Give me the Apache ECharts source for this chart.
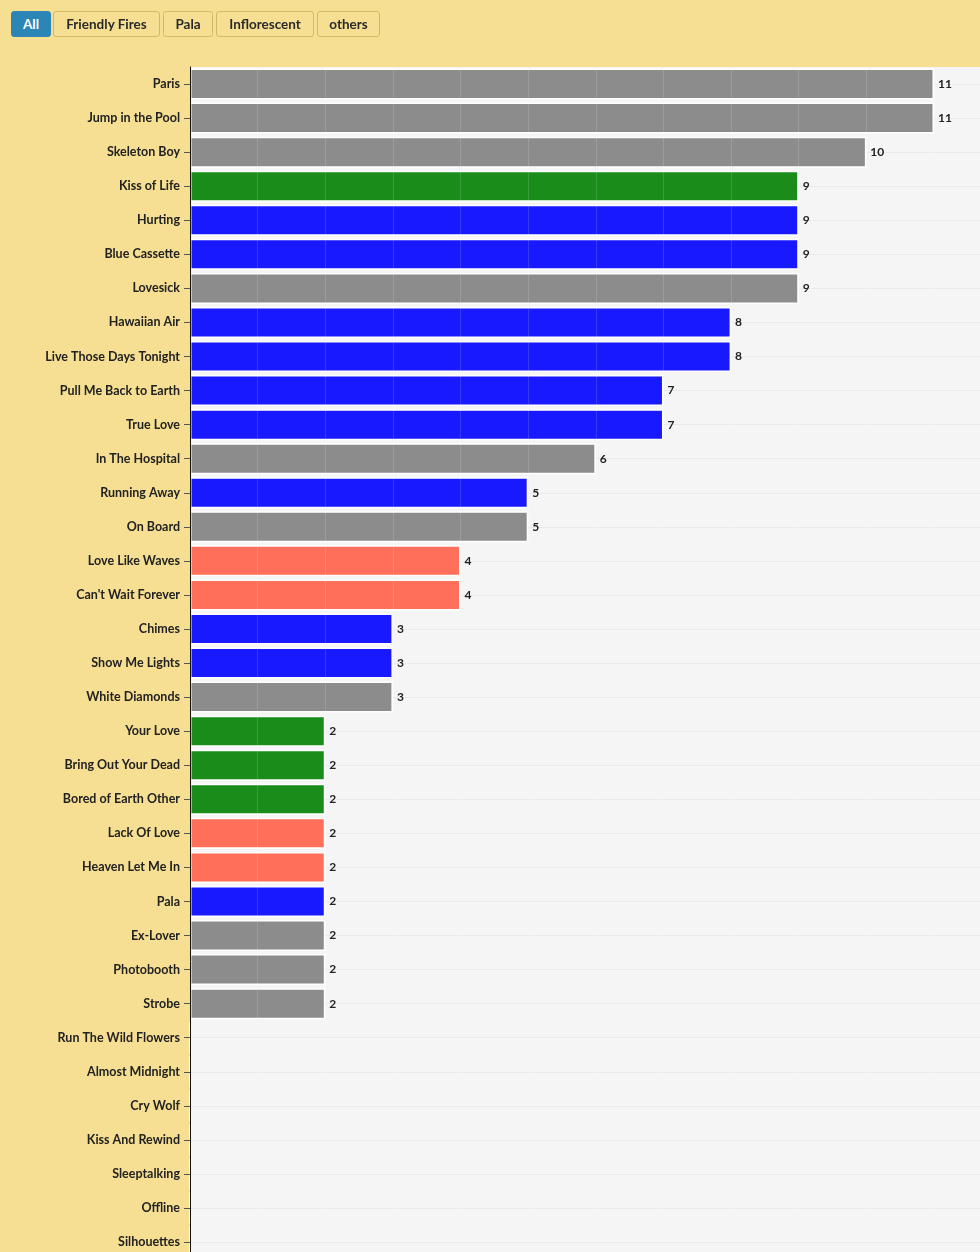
<!DOCTYPE html>
<html>
<head>
<meta charset="utf-8">
<script src="https://cdn.jsdelivr.net/npm/echarts@6/dist/echarts.min.js"></script>
<style>
  html, body { margin: 0; padding: 0; background: #F6DF92; overflow: hidden; width: 980px; height: 1252px; }
  #bar { position: absolute; left: 0; top: 11px; height: 26px; }
  .btn { position: absolute; top: 0; height: 26px; box-sizing: border-box; border: 1px solid #D3B967; border-radius: 3px;
         background: #F6DF92; color: #2a2a2a; font: bold 13.5px Lato, sans-serif; display: flex; align-items: center; justify-content: center; }
  .btn.active { background: #2B86B6; border-color: #2B86B6; color: #fff; }
  #chart { position: absolute; left: 0; top: 0; width: 980px; height: 1300px; }
</style>
</head>
<body>
<div id="chart"></div>
<div id="bar"></div>
<script>
// ---- data ----
const buttons = ['All', 'Friendly Fires', 'Pala', 'Inflorescent', 'others'];
const songs = ['Paris', 'Jump in the Pool', 'Skeleton Boy', 'Kiss of Life', 'Hurting', 'Blue Cassette', 'Lovesick',
  'Hawaiian Air', 'Live Those Days Tonight', 'Pull Me Back to Earth', 'True Love', 'In The Hospital', 'Running Away',
  'On Board', 'Love Like Waves', "Can't Wait Forever", 'Chimes', 'Show Me Lights', 'White Diamonds', 'Your Love',
  'Bring Out Your Dead', 'Bored of Earth Other', 'Lack Of Love', 'Heaven Let Me In', 'Pala', 'Ex-Lover', 'Photobooth',
  'Strobe', 'Run The Wild Flowers', 'Almost Midnight', 'Cry Wolf', 'Kiss And Rewind', 'Sleeptalking', 'Offline', 'Silhouettes'];
const counts = [11, 11, 10, 9, 9, 9, 9, 8, 8, 7, 7, 6, 5, 5, 4, 4, 3, 3, 3, 2, 2, 2, 2, 2, 2, 2, 2, 2, 0, 0, 0, 0, 0, 0, 0];
const groups = ['others', 'others', 'others', 'Friendly Fires', 'Pala', 'Pala', 'others', 'Pala', 'Pala', 'Pala', 'Pala',
  'others', 'Pala', 'others', 'Inflorescent', 'Inflorescent', 'Pala', 'Pala', 'others', 'Friendly Fires', 'Friendly Fires',
  'Friendly Fires', 'Inflorescent', 'Inflorescent', 'Pala', 'others', 'others', 'others', 'others', 'others', 'others',
  'others', 'others', 'others', 'others'];

// ---- styles ----
const groupColors = { 'Friendly Fires': '#1A8C1A', 'Pala': '#1919FF', 'Inflorescent': '#FF6F59', 'others': '#8C8C8C' };
const btnLayout = [[11, 40], [53, 107], [163, 50], [216, 98], [317, 63]];

const bar = document.getElementById('bar');
buttons.forEach((b, i) => {
  const d = document.createElement('div');
  d.className = 'btn' + (i === 0 ? ' active' : '');
  d.textContent = b;
  d.style.left = btnLayout[i][0] + 'px';
  d.style.width = btnLayout[i][1] + 'px';
  bar.appendChild(d);
});

const chart = echarts.init(document.getElementById('chart'), null, { renderer: 'canvas' });
const band = 34.06;
const labelFont = { color: '#222', fontFamily: 'Lato', fontWeight: 'bold' };
chart.setOption({
  animation: false,
  grid: { left: 190, right: 0, top: 67, height: band * songs.length, show: true, backgroundColor: '#F5F5F5', borderWidth: 0 },
  xAxis: {
    type: 'value', min: 0, max: 11.68, interval: 1, z: 5,
    axisLine: { show: false }, axisTick: { show: false }, axisLabel: { show: false },
    splitLine: { show: true, lineStyle: { color: 'rgba(255,255,255,0.14)', width: 1 } }
  },
  yAxis: [{
    type: 'category', inverse: true, data: songs, z: 0,
    axisLine: { show: false }, axisTick: { show: false }, axisLabel: { show: false },
    splitLine: { show: true, alignWithLabel: true, lineStyle: { color: '#EAEAEA', width: 1 } }
  }, {
    type: 'category', inverse: true, data: songs, z: 6, position: 'left',
    axisLine: { show: true, onZero: false, lineStyle: { color: '#111', width: 1 } },
    axisTick: { show: true, alignWithLabel: true, length: 6, lineStyle: { color: '#555' } },
    axisLabel: Object.assign({ margin: 10, fontSize: 12.5 }, labelFont),
    splitLine: { show: false }
  }],
  series: [{
    type: 'bar', barWidth: 31, z: 2, yAxisIndex: 0,
    data: counts.map((v, i) => ({ value: v, itemStyle: { color: groupColors[groups[i]], borderColor: '#fff', borderWidth: 1.5 } })),
    label: Object.assign({
      show: true, position: 'right', distance: 4, fontSize: 12,
      formatter: p => (p.value ? String(p.value) : '')
    }, labelFont)
  }]
});
</script>
</body>
</html>
